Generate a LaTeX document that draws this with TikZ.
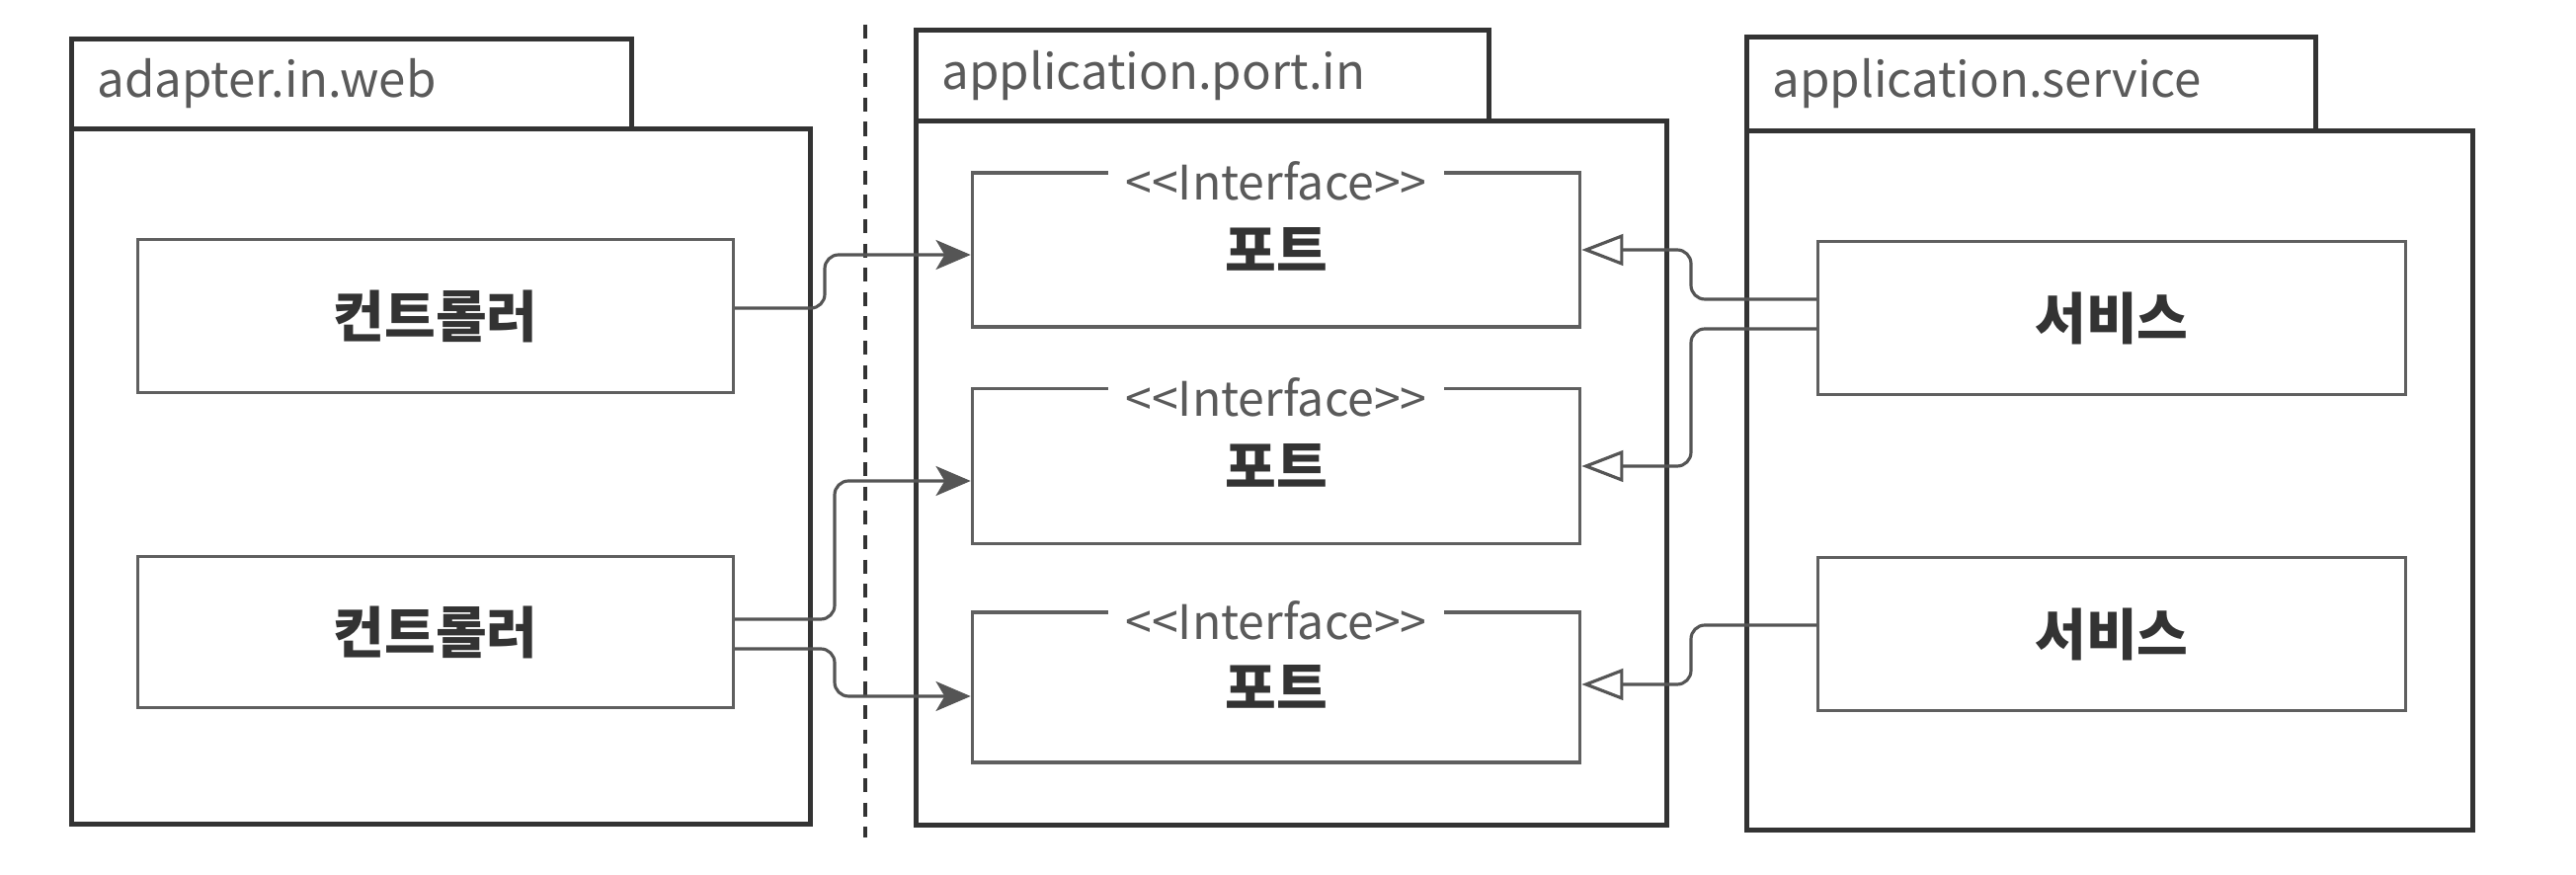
\documentclass[tikz,border=0pt]{standalone}
\usepackage{fontspec}
\setmainfont{Noto Sans CJK KR}
\usetikzlibrary{arrows.meta}
\definecolor{pkgdark}{HTML}{333333}
\definecolor{boxgray}{HTML}{5F5F5F}
\definecolor{wiregray}{HTML}{555555}
\definecolor{labelgray}{HTML}{5A5A5A}

\begin{document}
\begin{tikzpicture}[x=0.01cm,y=-0.01cm,
    pkg/.style={draw=pkgdark,line width=1.3pt,anchor=north west,inner sep=0pt},
    tab/.style={pkg,inner xsep=0.26cm,align=left,font=\fontsize{14}{17}\selectfont,text=labelgray},
    cls/.style={draw=boxgray,line width=0.9pt,font=\bfseries\fontsize{16}{19}\selectfont,text=pkgdark},
    stereo/.style={fill=white,inner xsep=5pt,inner ysep=1pt,font=\fontsize{13.7}{16}\selectfont,text=labelgray},
    calls/.style={draw=wiregray,line width=0.9pt,rounded corners=4pt,-{Stealth[length=10pt,width=8.5pt,inset=2.5pt]}},
    impl/.style={draw=wiregray,line width=0.9pt,rounded corners=4pt,-{Triangle[open,length=12pt,width=9pt,fill=white]}}]

    \useasboundingbox (0,0) rectangle (2608,886);

    % Packages
    \node[tab,text width=5.15cm,minimum height=0.91cm] (webtab) at (70,37) {adapter.in.web};
    \node[pkg,minimum width=7.48cm,minimum height=7.04cm] (webpkg) at (70,128) {};

    \node[tab,text width=5.28cm,minimum height=0.92cm] (porttab) at (925,28) {application.port.in};
    \node[pkg,minimum width=7.60cm,minimum height=7.13cm] (portpkg) at (925,120) {};

    \node[tab,text width=5.24cm,minimum height=0.95cm] (svctab) at (1766,35) {application.service};
    \node[pkg,minimum width=7.35cm,minimum height=7.08cm] (svcpkg) at (1766,130) {};

    % Boundary
    \draw[pkgdark,line width=1pt,dash pattern=on 4pt off 3pt] (876,25) -- (876,848);

    % Classes
    \node[cls,minimum width=6.02cm,minimum height=1.55cm] (ctrlA) at (441,320) {컨트롤러};
    \node[cls,minimum width=6.02cm,minimum height=1.53cm] (ctrlB) at (441,640) {컨트롤러};

    \node[cls,minimum width=6.15cm,minimum height=1.56cm] (portA) at (1292,253) {포트};
    \node[cls,minimum width=6.15cm,minimum height=1.57cm] (portB) at (1292,472) {포트};
    \node[cls,minimum width=6.15cm,minimum height=1.52cm] (portC) at (1292,696) {포트};

    \node[cls,minimum width=5.94cm,minimum height=1.55cm] (svcA) at (2138,322) {서비스};
    \node[cls,minimum width=5.94cm,minimum height=1.55cm] (svcB) at (2138,642) {서비스};

    % Stereotypes
    \node[stereo] (portAst) at ([yshift=-0.1cm]portA.north) {<{}<Interface>{}>};
    \node[stereo] (portBst) at ([yshift=-0.1cm]portB.north) {<{}<Interface>{}>};
    \node[stereo] (portCst) at ([yshift=-0.1cm]portC.north) {<{}<Interface>{}>};

    % Calls
    \draw[calls] (ctrlA.east |- 0,312) -| (835,258) -- (portA.west |- 0,258);
    \draw[calls] (ctrlB.east |- 0,627) -| (845,487) -- (portB.west |- 0,487);
    \draw[calls] (ctrlB.east |- 0,657) -| (845,705) -- (portC.west |- 0,705);

    % Implementations
    \draw[impl] (svcA.west |- 0,303) -| (1712,253) -- (portA.east |- 0,253);
    \draw[impl] (svcA.west |- 0,333) -| (1712,472) -- (portB.east |- 0,472);
    \draw[impl] (svcB.west |- 0,633) -| (1712,693) -- (portC.east |- 0,693);
\end{tikzpicture}
\end{document}
